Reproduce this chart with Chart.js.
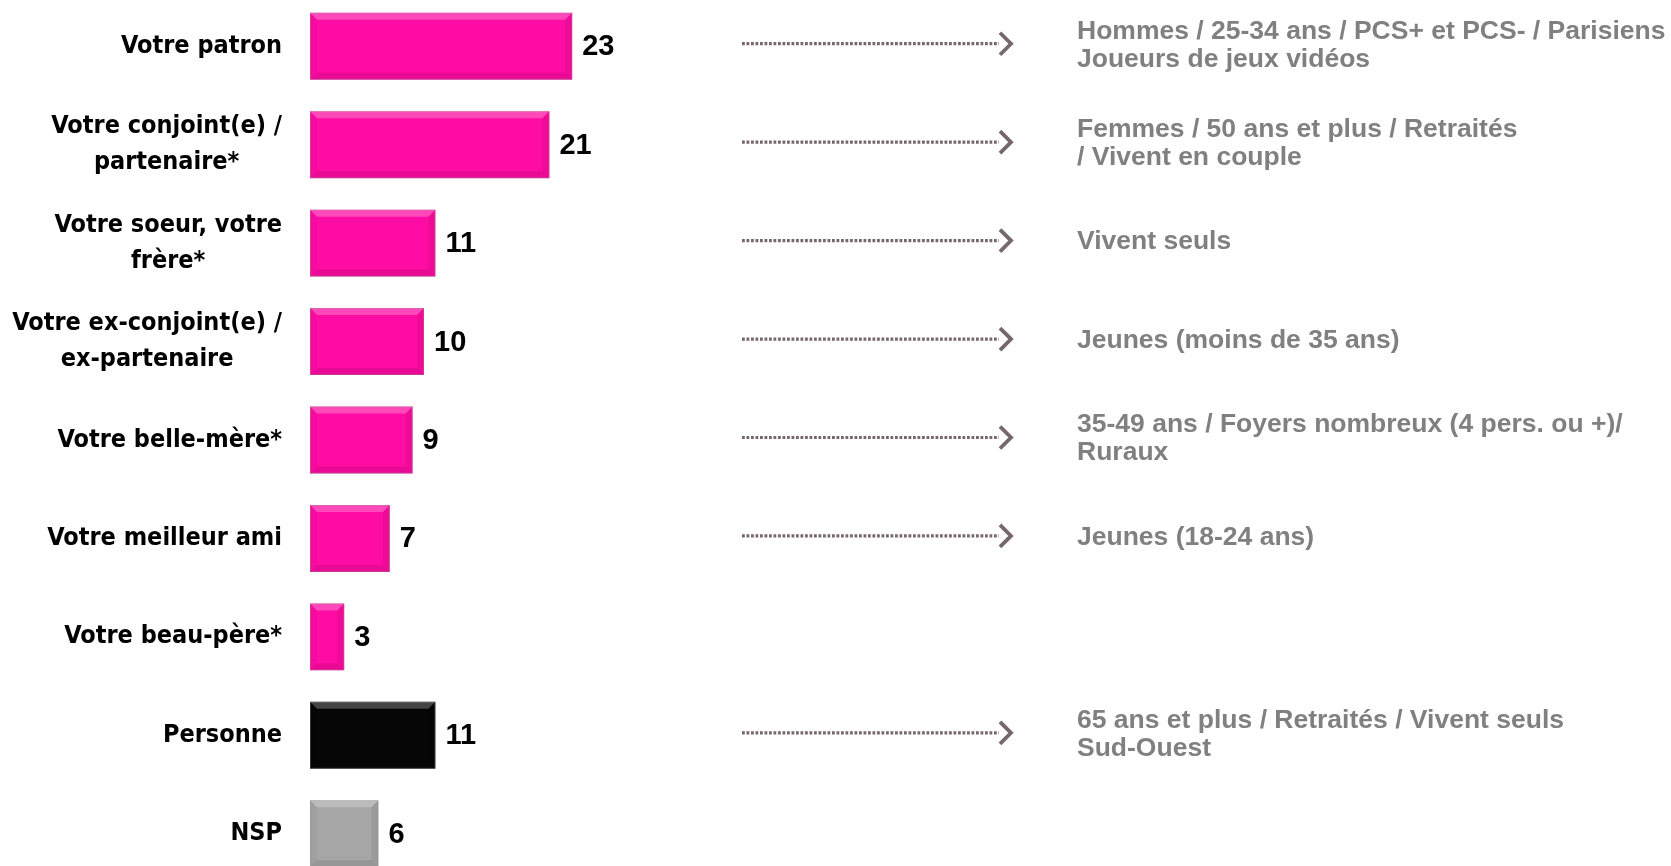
<!DOCTYPE html>
<html>
<head>
<meta charset="utf-8">
<script src="https://cdn.jsdelivr.net/npm/chart.js@4.4.0/dist/chart.umd.min.js"></script>
<style>
html, body { margin: 0; padding: 0; background: #fff; overflow: hidden; }
#wrap { position: absolute; left: 0; top: -3px; width: 1671px; height: 886px; }
</style>
</head>
<body>
<div id="wrap"><canvas id="canvas1"></canvas></div>
<script>
// categories (multi-line labels as arrays)
var categories = [
    ['Votre patron'],
    ['Votre conjoint(e) /', 'partenaire*'],
    ['Votre soeur, votre', 'frère*'],
    ['Votre ex-conjoint(e) /', 'ex-partenaire'],
    ['Votre belle-mère*'],
    ['Votre meilleur ami'],
    ['Votre beau-père*'],
    ['Personne'],
    ['NSP']
];
var values = [23, 21, 11, 10, 9, 7, 3, 11, 6];
// profile text shown next to each row (empty = no arrow)
var profiles = [
    ['Hommes / 25-34 ans / PCS+ et PCS- / Parisiens', 'Joueurs de jeux vidéos'],
    ['Femmes / 50 ans et plus / Retraités', '/ Vivent en couple'],
    ['Vivent seuls'],
    ['Jeunes (moins de 35 ans)'],
    ['35-49 ans / Foyers nombreux (4 pers. ou +)/', 'Ruraux'],
    ['Jeunes (18-24 ans)'],
    [],
    ['65 ans et plus / Retraités / Vivent seuls', 'Sud-Ouest'],
    []
];

var pink = '#ff0ca4';
var barColors = [pink, pink, pink, pink, pink, pink, pink, '#060606', '#a6a6a6'];
var labelFont = 'bold 25px "DejaVu Sans Condensed", "DejaVu Sans", sans-serif';

function poly(ctx, pts, fill){
    ctx.beginPath();
    ctx.moveTo(pts[0][0], pts[0][1]);
    for(var i=1; i < pts.length; i++){
        ctx.lineTo(pts[i][0], pts[i][1]);
    }
    ctx.closePath();
    ctx.fillStyle = fill;
    ctx.fill();
}

// bevel look + value at the end of each bar
var barExtras = {
    id: 'barExtras',
    afterDatasetsDraw: function(chart){
        var ctx = chart.ctx;
        var meta = chart.getDatasetMeta(0);
        meta.data.forEach(function(bar, i){
            var p = bar.getProps(['x', 'y', 'base', 'height'], true);
            var l = Math.min(p.base, p.x), r = Math.max(p.base, p.x);
            var t = p.y - p.height / 2, b = p.y + p.height / 2;
            var s = 7;
            ctx.save();
            poly(ctx, [[l, t], [r, t], [r - s, t + s], [l + s, t + s]], 'rgba(255,255,255,0.25)');
            poly(ctx, [[l, b], [r, b], [r - s, b - s], [l + s, b - s]], 'rgba(0,0,0,0.09)');
            poly(ctx, [[l, t], [l + s, t + s], [l + s, b - s], [l, b]], 'rgba(0,0,0,0.04)');
            poly(ctx, [[r, t], [r - s, t + s], [r - s, b - s], [r, b]], 'rgba(0,0,0,0.07)');
            ctx.strokeStyle = 'rgba(150,150,150,0.35)';
            ctx.lineWidth = 1;
            ctx.strokeRect(l + 0.5, t + 0.5, r - l - 1, b - t - 1);

            ctx.font = 'bold 29px "Liberation Sans", Arial, sans-serif';
            ctx.fillStyle = '#000';
            ctx.textBaseline = 'middle';
            ctx.textAlign = 'left';
            ctx.fillText(String(values[i]), r + 10, p.y + 1);
            ctx.restore();
        });
    }
};

// category labels: block right-aligned to the axis, lines centred inside the block
var rowLabels = {
    id: 'rowLabels',
    afterDraw: function(chart){
        var ctx = chart.ctx;
        var yScale = chart.scales.y;
        var right = chart.chartArea.left - 28;
        ctx.save();
        ctx.font = labelFont;
        ctx.fillStyle = '#000';
        ctx.textBaseline = 'middle';
        ctx.textAlign = 'center';
        categories.forEach(function(lines, i){
            var y = yScale.getPixelForValue(i);
            var widest = 0;
            lines.forEach(function(s){ widest = Math.max(widest, ctx.measureText(s).width); });
            var cx = right - widest / 2;
            for(var k=0; k < lines.length; k++){
                ctx.fillText(lines[k], cx, y + (k - (lines.length - 1) / 2) * 36);
            }
        });
        ctx.restore();
    }
};

// dotted arrows and grey profile text on the right
var profileNotes = {
    id: 'profileNotes',
    afterDraw: function(chart){
        var ctx = chart.ctx;
        var yScale = chart.scales.y;
        var x0 = chart.chartArea.left + 432;
        var x1 = x0 + 257;
        var tx = chart.chartArea.left + 767;
        profiles.forEach(function(lines, i){
            if(!lines.length) return;
            var y = yScale.getPixelForValue(i);
            var ay = y - 2.5;
            ctx.save();
            ctx.strokeStyle = '#76676a';
            ctx.lineWidth = 3.2;
            ctx.setLineDash([2.8, 1.7]);
            ctx.beginPath();
            ctx.moveTo(x0, ay);
            ctx.lineTo(x1, ay);
            ctx.stroke();
            ctx.setLineDash([]);
            ctx.lineWidth = 3.8;
            ctx.beginPath();
            ctx.moveTo(x1 + 1, ay - 11);
            ctx.lineTo(x1 + 12, ay);
            ctx.lineTo(x1 + 1, ay + 11);
            ctx.stroke();

            ctx.font = 'bold 26.5px "Liberation Sans", Arial, sans-serif';
            ctx.fillStyle = '#808080';
            ctx.textBaseline = 'middle';
            ctx.textAlign = 'left';
            for(var k=0; k < lines.length; k++){
                var ly = y - 1 + (k - (lines.length - 1) / 2) * 28;
                ctx.fillText(lines[k], tx, ly);
            }
            ctx.restore();
        });
    }
};

var ctx = document.getElementById('canvas1');
var barGraph = new Chart(ctx, {
    type: 'bar',
    data: {
        labels: categories,
        datasets: [
            {
                data: values,
                backgroundColor: barColors,
                borderWidth: 0,
                barPercentage: 0.68,
                categoryPercentage: 1
            }
        ]
    },
    options: {
        indexAxis: 'y',
        responsive: true,
        maintainAspectRatio: false,
        animation: false,
        layout: { padding: { left: 0, right: 221, top: 0, bottom: 0 } },
        plugins: {
            legend: { display: false },
            tooltip: { enabled: false }
        },
        scales: {
            x: { display: false, min: 0, max: 100 },
            y: {
                afterFit: function(scale){
                    scale.width = 310;
                    scale.paddingTop = 0;
                    scale.paddingBottom = 0;
                },
                grid: { display: false, drawTicks: false },
                border: { display: false },
                ticks: { display: false, autoSkip: false }
            }
        }
    },
    plugins: [barExtras, rowLabels, profileNotes]
});
</script>
</body>
</html>
